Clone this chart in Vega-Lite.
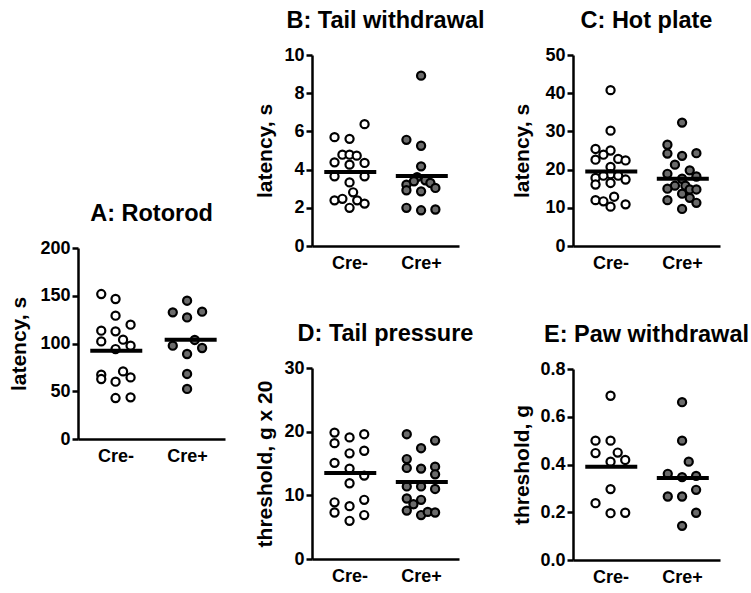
{
  "$schema": "https://vega.github.io/schema/vega-lite/v6.json",
  "background": "white",
  "padding": {"left": 8, "top": 8, "right": 5, "bottom": 5},
  "config": {
    "font": "Liberation Sans",
    "view": {"stroke": null},
    "axis": {
      "grid": false,
      "domainColor": "black",
      "domainWidth": 2.5,
      "tickColor": "black",
      "tickWidth": 2.5,
      "labelColor": "black",
      "labelFont": "Liberation Sans",
      "labelFontWeight": "bold",
      "labelFontSize": 18,
      "titleColor": "black",
      "titleFont": "Liberation Sans",
      "titleFontWeight": "bold",
      "titleFontSize": 21,
      "labelOverlap": false,
      "labelFlush": false,
      "tickCount": 12
    },
    "axisX": {"ticks": false, "tickSize": 0, "labelPadding": 8},
    "axisY": {"tickSize": 6, "labelPadding": 2},
    "title": {"font": "Liberation Sans", "fontSize": 23.5, "fontWeight": "bold", "color": "black", "anchor": "middle", "frame": "group", "offset": 14},
    "circle": {"size": 66, "stroke": "black", "strokeWidth": 2.2, "opacity": 1},
    "tick": {"color": "black", "thickness": 4, "opacity": 1}
  },
  "datasets": {
    "A": [
      {"g": "Cre-", "x": 0.80, "v": 151.8}, {"g": "Cre-", "x": 1.0, "v": 146.6}, {"g": "Cre-", "x": 1.0, "v": 129.1},
      {"g": "Cre-", "x": 1.21, "v": 119.7}, {"g": "Cre-", "x": 0.80, "v": 113.4}, {"g": "Cre-", "x": 1.0, "v": 112.7},
      {"g": "Cre-", "x": 0.80, "v": 102.2}, {"g": "Cre-", "x": 1.105, "v": 104.0}, {"g": "Cre-", "x": 1.21, "v": 97.7},
      {"g": "Cre-", "x": 1.0, "v": 94.2}, {"g": "Cre-", "x": 0.80, "v": 67.3}, {"g": "Cre-", "x": 0.80, "v": 62.8},
      {"g": "Cre-", "x": 1.105, "v": 70.8}, {"g": "Cre-", "x": 1.21, "v": 64.5}, {"g": "Cre-", "x": 1.0, "v": 60.0},
      {"g": "Cre-", "x": 1.0, "v": 42.9}, {"g": "Cre-", "x": 1.21, "v": 43.6},
      {"g": "Cre+", "x": 2.0, "v": 144.8}, {"g": "Cre+", "x": 1.8, "v": 132.6}, {"g": "Cre+", "x": 2.0, "v": 127.3},
      {"g": "Cre+", "x": 2.21, "v": 133.3}, {"g": "Cre+", "x": 1.8, "v": 97.7}, {"g": "Cre+", "x": 2.107, "v": 103.7},
      {"g": "Cre+", "x": 2.21, "v": 95.3}, {"g": "Cre+", "x": 2.0, "v": 89.0}, {"g": "Cre+", "x": 2.0, "v": 68.1},
      {"g": "Cre+", "x": 2.0, "v": 52.4}
    ],
    "Am": [{"g": "Cre-", "x": 1.01, "m": 92.5}, {"g": "Cre+", "x": 2.05, "m": 104.0}],
    "B": [
      {"g": "Cre-", "x": 1.21, "v": 6.38}, {"g": "Cre-", "x": 0.79, "v": 5.70}, {"g": "Cre-", "x": 1.0, "v": 5.61},
      {"g": "Cre-", "x": 0.90, "v": 4.78}, {"g": "Cre-", "x": 1.0, "v": 4.78}, {"g": "Cre-", "x": 1.10, "v": 4.73},
      {"g": "Cre-", "x": 0.79, "v": 4.38}, {"g": "Cre-", "x": 1.0, "v": 4.26}, {"g": "Cre-", "x": 1.21, "v": 4.35},
      {"g": "Cre-", "x": 0.79, "v": 3.65}, {"g": "Cre-", "x": 1.21, "v": 3.65}, {"g": "Cre-", "x": 1.0, "v": 3.33},
      {"g": "Cre-", "x": 1.05, "v": 2.81}, {"g": "Cre-", "x": 0.79, "v": 2.39}, {"g": "Cre-", "x": 0.90, "v": 2.47},
      {"g": "Cre-", "x": 1.107, "v": 2.39}, {"g": "Cre-", "x": 1.21, "v": 2.22}, {"g": "Cre-", "x": 1.0, "v": 2.0},
      {"g": "Cre+", "x": 2.0, "v": 8.92}, {"g": "Cre+", "x": 1.795, "v": 5.56}, {"g": "Cre+", "x": 2.0, "v": 5.25},
      {"g": "Cre+", "x": 2.0, "v": 4.17}, {"g": "Cre+", "x": 1.944, "v": 3.61}, {"g": "Cre+", "x": 1.9, "v": 3.39},
      {"g": "Cre+", "x": 2.06, "v": 3.44}, {"g": "Cre+", "x": 1.795, "v": 3.21}, {"g": "Cre+", "x": 2.13, "v": 3.30},
      {"g": "Cre+", "x": 1.795, "v": 2.92}, {"g": "Cre+", "x": 2.2, "v": 3.04}, {"g": "Cre+", "x": 2.0, "v": 2.86},
      {"g": "Cre+", "x": 1.795, "v": 2.0}, {"g": "Cre+", "x": 2.0, "v": 1.87}, {"g": "Cre+", "x": 2.2, "v": 1.91}
    ],
    "Bm": [{"g": "Cre-", "x": 1.01, "m": 3.88}, {"g": "Cre+", "x": 2.01, "m": 3.67}],
    "C": [
      {"g": "Cre-", "x": 1.0, "v": 40.8}, {"g": "Cre-", "x": 1.0, "v": 30.2}, {"g": "Cre-", "x": 0.79, "v": 25.4},
      {"g": "Cre-", "x": 1.0, "v": 25.0}, {"g": "Cre-", "x": 0.90, "v": 23.9}, {"g": "Cre-", "x": 1.107, "v": 22.8},
      {"g": "Cre-", "x": 0.79, "v": 22.6}, {"g": "Cre-", "x": 1.21, "v": 22.4}, {"g": "Cre-", "x": 1.0, "v": 20.7},
      {"g": "Cre-", "x": 1.0, "v": 18.8}, {"g": "Cre-", "x": 0.79, "v": 17.8}, {"g": "Cre-", "x": 0.90, "v": 18.4},
      {"g": "Cre-", "x": 1.107, "v": 18.4}, {"g": "Cre-", "x": 1.21, "v": 17.4}, {"g": "Cre-", "x": 0.79, "v": 16.1},
      {"g": "Cre-", "x": 1.0, "v": 16.5}, {"g": "Cre-", "x": 0.79, "v": 12.0}, {"g": "Cre-", "x": 0.90, "v": 11.7},
      {"g": "Cre-", "x": 1.05, "v": 12.9}, {"g": "Cre-", "x": 1.0, "v": 10.3}, {"g": "Cre-", "x": 1.21, "v": 10.9},
      {"g": "Cre+", "x": 2.0, "v": 32.3}, {"g": "Cre+", "x": 1.795, "v": 26.5}, {"g": "Cre+", "x": 1.795, "v": 24.2},
      {"g": "Cre+", "x": 2.0, "v": 23.6}, {"g": "Cre+", "x": 2.2, "v": 24.3}, {"g": "Cre+", "x": 1.9, "v": 21.3},
      {"g": "Cre+", "x": 1.795, "v": 18.9}, {"g": "Cre+", "x": 2.107, "v": 19.8}, {"g": "Cre+", "x": 2.2, "v": 18.2},
      {"g": "Cre+", "x": 2.0, "v": 17.6}, {"g": "Cre+", "x": 1.9, "v": 15.8}, {"g": "Cre+", "x": 1.795, "v": 15.0},
      {"g": "Cre+", "x": 2.046, "v": 15.8}, {"g": "Cre+", "x": 2.107, "v": 14.8}, {"g": "Cre+", "x": 2.2, "v": 14.8},
      {"g": "Cre+", "x": 1.795, "v": 12.0}, {"g": "Cre+", "x": 2.0, "v": 13.7}, {"g": "Cre+", "x": 2.107, "v": 12.6},
      {"g": "Cre+", "x": 2.2, "v": 11.3}, {"g": "Cre+", "x": 2.0, "v": 9.7}
    ],
    "Cm": [{"g": "Cre-", "x": 1.01, "m": 19.5}, {"g": "Cre+", "x": 2.01, "m": 17.6}],
    "D": [
      {"g": "Cre-", "x": 0.79, "v": 19.85}, {"g": "Cre-", "x": 1.0, "v": 19.1}, {"g": "Cre-", "x": 1.205, "v": 19.6},
      {"g": "Cre-", "x": 0.79, "v": 18.2}, {"g": "Cre-", "x": 1.0, "v": 16.6}, {"g": "Cre-", "x": 1.205, "v": 17.0},
      {"g": "Cre-", "x": 0.79, "v": 15.1}, {"g": "Cre-", "x": 1.0, "v": 14.2}, {"g": "Cre-", "x": 1.205, "v": 13.1},
      {"g": "Cre-", "x": 1.0, "v": 11.9}, {"g": "Cre-", "x": 0.79, "v": 8.9}, {"g": "Cre-", "x": 0.79, "v": 7.3},
      {"g": "Cre-", "x": 1.0, "v": 8.3}, {"g": "Cre-", "x": 1.0, "v": 6.0}, {"g": "Cre-", "x": 1.205, "v": 9.3},
      {"g": "Cre-", "x": 1.205, "v": 6.9},
      {"g": "Cre+", "x": 1.8, "v": 19.6}, {"g": "Cre+", "x": 2.196, "v": 18.6}, {"g": "Cre+", "x": 2.0, "v": 17.4},
      {"g": "Cre+", "x": 1.8, "v": 15.7}, {"g": "Cre+", "x": 1.8, "v": 14.3}, {"g": "Cre+", "x": 2.0, "v": 14.2},
      {"g": "Cre+", "x": 2.196, "v": 14.5}, {"g": "Cre+", "x": 2.196, "v": 13.3}, {"g": "Cre+", "x": 1.8, "v": 11.4},
      {"g": "Cre+", "x": 2.0, "v": 11.4}, {"g": "Cre+", "x": 2.196, "v": 11.0}, {"g": "Cre+", "x": 1.8, "v": 9.5},
      {"g": "Cre+", "x": 2.0, "v": 9.3}, {"g": "Cre+", "x": 1.893, "v": 8.6}, {"g": "Cre+", "x": 1.8, "v": 7.6},
      {"g": "Cre+", "x": 2.0, "v": 6.9}, {"g": "Cre+", "x": 2.093, "v": 7.4}, {"g": "Cre+", "x": 2.196, "v": 7.3}
    ],
    "Dm": [{"g": "Cre-", "x": 1.01, "m": 13.5}, {"g": "Cre+", "x": 2.01, "m": 12.1}],
    "E": [
      {"g": "Cre-", "x": 1.0, "v": 0.688}, {"g": "Cre-", "x": 0.79, "v": 0.50}, {"g": "Cre-", "x": 1.0, "v": 0.50},
      {"g": "Cre-", "x": 0.79, "v": 0.448}, {"g": "Cre-", "x": 1.1, "v": 0.45}, {"g": "Cre-", "x": 1.0, "v": 0.412},
      {"g": "Cre-", "x": 1.205, "v": 0.419}, {"g": "Cre-", "x": 1.0, "v": 0.297}, {"g": "Cre-", "x": 0.79, "v": 0.238},
      {"g": "Cre-", "x": 1.0, "v": 0.196}, {"g": "Cre-", "x": 1.205, "v": 0.198},
      {"g": "Cre+", "x": 2.0, "v": 0.661}, {"g": "Cre+", "x": 2.0, "v": 0.50}, {"g": "Cre+", "x": 2.093, "v": 0.412},
      {"g": "Cre+", "x": 1.8, "v": 0.361}, {"g": "Cre+", "x": 2.0, "v": 0.347}, {"g": "Cre+", "x": 2.196, "v": 0.352},
      {"g": "Cre+", "x": 2.196, "v": 0.294}, {"g": "Cre+", "x": 1.8, "v": 0.266}, {"g": "Cre+", "x": 2.0, "v": 0.266},
      {"g": "Cre+", "x": 2.196, "v": 0.198}, {"g": "Cre+", "x": 2.0, "v": 0.143}
    ],
    "Em": [{"g": "Cre-", "x": 1.01, "m": 0.391}, {"g": "Cre+", "x": 2.01, "m": 0.343}]
  },
  "spacing": 28,
  "hconcat": [
    {
      "spacing": 92,
      "vconcat": [
        {"width": 10, "height": 53.5, "data": {"values": [{}]}, "mark": {"type": "point", "opacity": 0}, "encoding": {}},
        {
          "title": "A: Rotorod", "width": 147, "height": 191,
          "layer": [
            {"data": {"name": "A"}, "mark": "circle",
             "encoding": {
               "x": {"field": "x", "type": "quantitative", "scale": {"domain": [0.475, 2.53], "nice": false, "zero": false},
                     "axis": {"values": [1, 2], "labelExpr": "datum.value == 1 ? 'Cre-' : 'Cre+'", "title": null}},
               "y": {"field": "v", "type": "quantitative", "scale": {"domain": [0, 200], "nice": false},
                     "axis": {"values": [0, 50, 100, 150, 200], "tickCount": 12, "title": "latency, s", "titleX": -49, "labelOverlap": false}},
               "fill": {"field": "g", "type": "nominal", "scale": {"domain": ["Cre-", "Cre+"], "range": ["#ffffff", "#6b6b6b"]}, "legend": null}
             }},
            {"data": {"name": "Am"}, "mark": {"type": "tick", "orient": "horizontal", "size": 52},
             "encoding": {"x": {"field": "x", "type": "quantitative"}, "y": {"field": "m", "type": "quantitative"}}}
          ]
        }
      ]
    },
    {
      "spacing": 26,
      "hconcat": [
        {
          "spacing": 49,
          "vconcat": [
            {
              "title": "B: Tail withdrawal", "width": 147, "height": 191,
              "layer": [
                {"data": {"name": "B"}, "mark": "circle",
                 "encoding": {
                   "x": {"field": "x", "type": "quantitative", "scale": {"domain": [0.475, 2.53], "nice": false, "zero": false},
                         "axis": {"values": [1, 2], "labelExpr": "datum.value == 1 ? 'Cre-' : 'Cre+'", "title": null}},
                   "y": {"field": "v", "type": "quantitative", "scale": {"domain": [0, 10], "nice": false},
                         "axis": {"values": [0, 2, 4, 6, 8, 10], "tickCount": 12, "title": "latency, s", "titleX": -37, "labelOverlap": false}},
                   "fill": {"field": "g", "type": "nominal", "scale": {"domain": ["Cre-", "Cre+"], "range": ["#ffffff", "#6b6b6b"]}, "legend": null}
                 }},
                {"data": {"name": "Bm"}, "mark": {"type": "tick", "orient": "horizontal", "size": 52},
                 "encoding": {"x": {"field": "x", "type": "quantitative"}, "y": {"field": "m", "type": "quantitative"}}}
              ]
            },
            {
              "title": "D: Tail pressure", "width": 147, "height": 191,
              "layer": [
                {"data": {"name": "D"}, "mark": "circle",
                 "encoding": {
                   "x": {"field": "x", "type": "quantitative", "scale": {"domain": [0.475, 2.53], "nice": false, "zero": false},
                         "axis": {"values": [1, 2], "labelExpr": "datum.value == 1 ? 'Cre-' : 'Cre+'", "title": null}},
                   "y": {"field": "v", "type": "quantitative", "scale": {"domain": [0, 30], "nice": false},
                         "axis": {"values": [0, 10, 20, 30], "tickCount": 12, "title": "threshold, g x 20", "titleX": -37, "labelOverlap": false}},
                   "fill": {"field": "g", "type": "nominal", "scale": {"domain": ["Cre-", "Cre+"], "range": ["#ffffff", "#6b6b6b"]}, "legend": null}
                 }},
                {"data": {"name": "Dm"}, "mark": {"type": "tick", "orient": "horizontal", "size": 52},
                 "encoding": {"x": {"field": "x", "type": "quantitative"}, "y": {"field": "m", "type": "quantitative"}}}
              ]
            }
          ]
        },
        {
          "spacing": 50,
          "vconcat": [
            {
              "title": "C: Hot plate", "width": 147, "height": 191,
              "layer": [
                {"data": {"name": "C"}, "mark": "circle",
                 "encoding": {
                   "x": {"field": "x", "type": "quantitative", "scale": {"domain": [0.475, 2.53], "nice": false, "zero": false},
                         "axis": {"values": [1, 2], "labelExpr": "datum.value == 1 ? 'Cre-' : 'Cre+'", "title": null}},
                   "y": {"field": "v", "type": "quantitative", "scale": {"domain": [0, 50], "nice": false},
                         "axis": {"values": [0, 10, 20, 30, 40, 50], "tickCount": 12, "title": "latency, s", "titleX": -40.5, "labelOverlap": false}},
                   "fill": {"field": "g", "type": "nominal", "scale": {"domain": ["Cre-", "Cre+"], "range": ["#ffffff", "#6b6b6b"]}, "legend": null}
                 }},
                {"data": {"name": "Cm"}, "mark": {"type": "tick", "orient": "horizontal", "size": 52},
                 "encoding": {"x": {"field": "x", "type": "quantitative"}, "y": {"field": "m", "type": "quantitative"}}}
              ]
            },
            {
              "title": "E: Paw withdrawal", "width": 147, "height": 191,
              "layer": [
                {"data": {"name": "E"}, "mark": "circle",
                 "encoding": {
                   "x": {"field": "x", "type": "quantitative", "scale": {"domain": [0.475, 2.53], "nice": false, "zero": false},
                         "axis": {"values": [1, 2], "labelExpr": "datum.value == 1 ? 'Cre-' : 'Cre+'", "title": null}},
                   "y": {"field": "v", "type": "quantitative", "scale": {"domain": [0, 0.8], "nice": false},
                         "axis": {"values": [0, 0.2, 0.4, 0.6, 0.8], "tickCount": 12, "format": ".1f", "title": "threshold, g", "titleX": -40.5, "labelOverlap": false}},
                   "fill": {"field": "g", "type": "nominal", "scale": {"domain": ["Cre-", "Cre+"], "range": ["#ffffff", "#6b6b6b"]}, "legend": null}
                 }},
                {"data": {"name": "Em"}, "mark": {"type": "tick", "orient": "horizontal", "size": 52},
                 "encoding": {"x": {"field": "x", "type": "quantitative"}, "y": {"field": "m", "type": "quantitative"}}}
              ]
            }
          ]
        }
      ]
    }
  ]
}
